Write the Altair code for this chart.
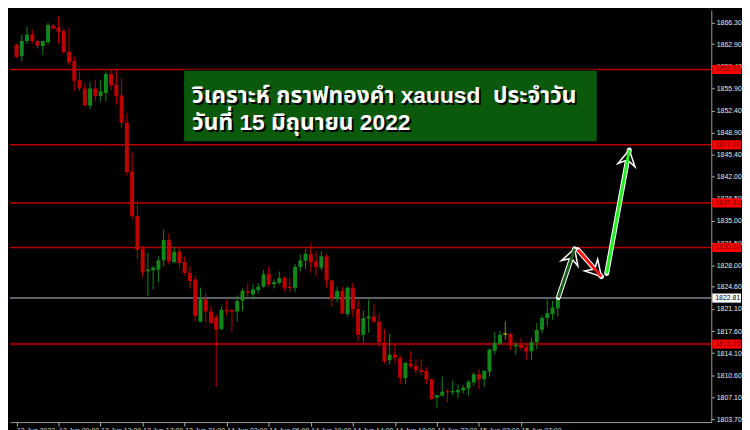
import math
import altair as alt
import pandas as pd

# ---------------- data (GOLD M30) ----------------
opens = [1862.8, 1861.0, 1863.4, 1864.4, 1863.4, 1862.6, 1863.2, 1865.8, 1865.5, 1865.0,
         1861.7, 1860.2, 1857.2, 1855.9, 1853.2, 1855.9, 1854.7, 1855.2, 1858.2, 1856.5,
         1854.8, 1850.5, 1842.8, 1835.8, 1830.5, 1827.05, 1827.2, 1827.3, 1828.8, 1832.0,
         1828.5, 1830.2, 1828.5, 1826.8, 1825.75, 1819.1, 1822.6, 1820.7, 1819.8, 1817.9,
         1820.95, 1820.9, 1820.7, 1822.4, 1823.9, 1823.4, 1824.1, 1824.6, 1826.6, 1825.0,
         1825.2, 1826.0, 1824.6, 1824.45, 1827.7, 1828.7, 1829.8, 1828.6, 1827.6, 1829.4,
         1825.6, 1822.7, 1823.9, 1820.3, 1824.45, 1821.1, 1817.0, 1819.6, 1819.9, 1819.1,
         1815.75, 1813.0, 1813.9, 1813.35, 1810.2, 1812.5, 1812.1, 1811.5, 1811.3, 1810.0,
         1807.1, 1807.4, 1808.12, 1807.93, 1807.93, 1808.24, 1808.55, 1809.5, 1810.8, 1810.0,
         1811.2, 1814.5, 1815.6, 1817.0, 1817.15, 1815.17, 1815.43, 1815.07, 1814.4, 1815.85,
         1817.8, 1819.65, 1820.3, 1821.2]
highs = [1863.0, 1864.4, 1865.6, 1865.2, 1863.6, 1863.4, 1866.3, 1866.1, 1867.2, 1865.4,
         1865.4, 1860.9, 1858.6, 1856.8, 1856.9, 1857.3, 1857.2, 1858.6, 1858.9, 1858.9,
         1857.5, 1851.9, 1845.8, 1837.5, 1831.1, 1830.0, 1827.9, 1829.4, 1833.6, 1833.0,
         1830.9, 1830.7, 1829.4, 1827.9, 1826.4, 1824.45, 1823.6, 1821.6, 1820.3, 1821.5,
         1822.5, 1821.1, 1823.25, 1824.3, 1825.2, 1825.0, 1825.2, 1827.2, 1827.8, 1825.75,
         1827.0, 1826.2, 1826.0, 1828.2, 1829.7, 1830.55, 1831.5, 1830.2, 1830.2, 1829.7,
         1825.75, 1824.6, 1824.6, 1824.6, 1825.2, 1822.6, 1820.8, 1822.6, 1821.8, 1820.4,
         1817.9, 1817.15, 1815.4, 1813.8, 1812.7, 1814.5, 1813.2, 1813.1, 1811.95, 1810.1,
         1807.5, 1810.4, 1808.44, 1809.76, 1809.2, 1809.07, 1809.85, 1811.05, 1811.6, 1811.4,
         1814.8, 1817.4, 1817.6, 1819.1, 1817.3, 1815.85, 1816.5, 1815.43, 1816.6, 1818.9,
         1820.1, 1822.6, 1822.4, 1822.9]
lows = [1860.7, 1860.2, 1863.0, 1863.0, 1862.2, 1861.2, 1862.8, 1865.3, 1863.0, 1861.5,
        1859.5, 1855.5, 1855.5, 1853.1, 1852.6, 1853.9, 1853.9, 1853.9, 1855.7, 1853.3,
        1849.7, 1842.2, 1835.25, 1829.0, 1826.1, 1823.1, 1824.2, 1825.3, 1827.8, 1828.1,
        1828.25, 1827.6, 1826.5, 1824.3, 1819.1, 1818.98, 1818.98, 1818.7, 1808.8, 1817.8,
        1820.0, 1817.5, 1819.1, 1820.8, 1823.05, 1822.6, 1823.56, 1824.45, 1824.6, 1824.3,
        1824.97, 1823.9, 1823.77, 1823.77, 1827.05, 1827.4, 1826.8, 1826.3, 1827.2, 1824.45,
        1821.5, 1822.2, 1820.28, 1819.9, 1819.8, 1815.95, 1815.85, 1817.3, 1818.87, 1815.1,
        1812.46, 1812.3, 1812.46, 1809.2, 1809.2, 1811.7, 1810.9, 1810.6, 1809.3, 1806.7,
        1805.4, 1807.35, 1806.4, 1807.5, 1807.0, 1807.77, 1807.4, 1809.0, 1808.44, 1808.8,
        1810.4, 1813.9, 1815.43, 1816.26, 1814.7, 1813.9, 1814.54, 1813.1, 1813.0, 1814.7,
        1817.3, 1818.45, 1819.4, 1819.9]
closes = [1860.9, 1863.4, 1864.4, 1863.4, 1862.66, 1863.4, 1865.9, 1865.36, 1864.85, 1861.6,
          1860.0, 1857.15, 1855.9, 1853.23, 1855.9, 1854.7, 1855.45, 1858.17, 1856.4, 1854.68,
          1850.5, 1842.7, 1835.76, 1830.45, 1826.9, 1827.32, 1827.6, 1828.77, 1832.0, 1828.6,
          1830.1, 1828.36, 1826.8, 1825.5, 1820.0, 1822.63, 1820.7, 1818.87, 1817.82, 1820.95,
          1820.7, 1820.7, 1822.36, 1823.92, 1823.67, 1824.19, 1824.61, 1826.58, 1824.97, 1825.33,
          1825.96, 1824.45, 1824.4, 1827.74, 1828.77, 1829.82, 1828.46, 1827.68, 1829.4, 1825.6,
          1822.73, 1823.92, 1820.39, 1824.45, 1821.06, 1817.0, 1819.65, 1819.92, 1819.08, 1815.85,
          1812.82, 1813.87, 1813.4, 1810.22, 1812.57, 1812.1, 1811.41, 1811.16, 1809.96, 1806.88,
          1807.5, 1808.03, 1807.93, 1808.12, 1808.28, 1808.66, 1809.6, 1810.79, 1809.96, 1811.32,
          1814.7, 1815.75, 1817.04, 1817.3, 1815.32, 1815.43, 1814.96, 1814.38, 1815.85, 1817.78,
          1819.65, 1820.44, 1821.32, 1822.81]

time_labels = ["13 Jun 2022", "13 Jun 09:00", "13 Jun 13:00", "13 Jun 17:00", "13 Jun 21:00",
               "14 Jun 02:00", "14 Jun 06:00", "14 Jun 10:00", "14 Jun 14:00", "14 Jun 18:00",
               "14 Jun 22:00", "15 Jun 03:00", "15 Jun 07:00"]
time_tick_idx = [8 * k for k in range(len(time_labels))]

price_ticks = [1866.30, 1862.90, 1859.40, 1855.90, 1852.40, 1848.90, 1845.40, 1842.00,
               1838.50, 1835.00, 1831.50, 1828.00, 1824.60, 1821.10, 1817.60, 1814.10,
               1810.60, 1807.10, 1803.70]

level_prices = [1858.91, 1847.00, 1837.83, 1830.80, 1815.55]
level_colors = ["#b80000", "#b80000", "#b80000", "#b80000", "#8a0000"]
level_widths = [1.5, 1.5, 1.5, 1.5, 2.5]
current_price = 1822.81

# arrows (candle index, price)
arrow_x1 = [103.1, 106.8, 112.3]
arrow_y1 = [1822.9, 1830.45, 1826.7]
arrow_x2 = [106.2, 111.3, 116.6]
arrow_y2 = [1830.6, 1826.2, 1846.2]
arrow_colors = ["#1b5e1b", "#ff1010", "#22ee22"]

# title box (candle index / price corners) and text
title_box_x = [31.8, 110.5]
title_box_y = [1858.8, 1847.5]
title_lines = ["วิเคราะห์ กราฟทองคำ xauusd \u00a0ประจำวัน", "วันที่ 15 มิถุนายน 2022"]
title_line_x = [33.4, 33.4]
title_line_y = [1853.6, 1849.4]

# ---------------- chart ----------------
W, H = 708, 416
XD = [-0.3, 131.26]
YD = [1803.23, 1868.29]
px_per_x = W / (XD[1] - XD[0])
px_per_y = H / (YD[1] - YD[0])

df = pd.DataFrame({"i": list(range(len(opens))), "open": opens, "high": highs,
                   "low": lows, "close": closes})
df["dir"] = ["up" if c > o else "down" for o, c in zip(opens, closes)]
df.loc[93, "dir"] = "flat"

xs = alt.Scale(domain=XD, nice=False, zero=False)
ys = alt.Scale(domain=YD, nice=False, zero=False)

lab_expr = "[" + ",".join("'%s'" % s for s in time_labels) + "][round(datum.value/8)]"
axfont = "Liberation Sans, Arial, sans-serif"

x_axis = alt.Axis(values=time_tick_idx, labelExpr=lab_expr, title=None, grid=False,
                  labelColor="#d8d8d8", labelFontSize=7, labelFont=axfont,
                  labelAlign="left", labelPadding=1, tickColor="#b0b0b0", tickSize=4,
                  domainColor="#9a9a9a", labelFlush=False, labelOverlap=False)
y_axis = alt.Axis(values=price_ticks, format=".2f", orient="right", title=None, grid=False,
                  labelColor="#e8e8e8", labelFontSize=7, labelFont=axfont,
                  tickColor="#b0b0b0", tickSize=3, labelPadding=2, domainColor="#9a9a9a",
                  labelOverlap=False, labelFlush=False)

base = alt.Chart(df)

lev_df = pd.DataFrame({"p": level_prices, "c": level_colors, "w": level_widths})
lev_df["lbl"] = [f"{p:.2f}" for p in level_prices]
lev_df["p1"] = lev_df["p"] - 0.72
lev_df["p2"] = lev_df["p"] + 0.72
levels = alt.Chart(lev_df).mark_rule().encode(
    y=alt.Y("p:Q", scale=ys, axis=y_axis), color=alt.Color("c:N", scale=None),
    strokeWidth=alt.StrokeWidth("w:Q", scale=None))

wicks = base.mark_rule(strokeWidth=1).encode(
    x=alt.X("i:Q", scale=xs, axis=x_axis),
    y=alt.Y("low:Q", scale=ys, axis=y_axis),
    y2="high:Q",
    color=alt.Color("dir:N", scale=alt.Scale(domain=["up", "down", "flat"],
                    range=["#12881a", "#c00000", "#8a8a10"]), legend=None),
)
bodies = base.mark_bar(size=4).encode(
    x=alt.X("i:Q", scale=xs, axis=x_axis),
    y=alt.Y("open:Q", scale=ys, axis=y_axis),
    y2="close:Q",
    color=alt.Color("dir:N", scale=alt.Scale(domain=["up", "down", "flat"],
                    range=["#00ff00", "#ff0000", "#a0a020"]), legend=None),
)

cur_df = pd.DataFrame({"p": [current_price], "lbl": [f"{current_price:.2f}"]})
cur_df["p1"] = cur_df["p"] - 0.72
cur_df["p2"] = cur_df["p"] + 0.72
cur_line = alt.Chart(cur_df).mark_rule(color="#5c6168", strokeWidth=2).encode(
    y=alt.Y("p:Q", scale=ys, axis=y_axis))

lev_box = alt.Chart(lev_df).mark_rect(color="#ff0000").encode(
    x=alt.value(W + 1), x2=alt.value(W + 30),
    y=alt.Y("p1:Q", scale=ys, axis=y_axis), y2="p2:Q")
lev_txt = alt.Chart(lev_df).mark_text(align="left", baseline="middle", fontSize=7,
                                      font=axfont, color="#7a0000").encode(
    x=alt.value(W + 4), y=alt.Y("p:Q", scale=ys, axis=y_axis), text="lbl:N")
cur_box = alt.Chart(cur_df).mark_rect(color="#ffffff").encode(
    x=alt.value(W + 1), x2=alt.value(W + 30),
    y=alt.Y("p1:Q", scale=ys, axis=y_axis), y2="p2:Q")
cur_txt = alt.Chart(cur_df).mark_text(align="left", baseline="middle", fontSize=7,
                                      font=axfont, color="#000000").encode(
    x=alt.value(W + 4), y=alt.Y("p:Q", scale=ys, axis=y_axis), text="lbl:N")

# title box
tb_df = pd.DataFrame({"x1": [title_box_x[0]], "x2": [title_box_x[1]],
                      "y1": [title_box_y[0]], "y2": [title_box_y[1]]})
tbox = alt.Chart(tb_df).mark_rect(fill="#0b5a0b", stroke="#000000", strokeWidth=1).encode(
    x=alt.X("x1:Q", scale=xs, axis=x_axis), x2="x2:Q",
    y=alt.Y("y1:Q", scale=ys, axis=y_axis), y2="y2:Q")
tt_df = pd.DataFrame({"t": title_lines, "x": title_line_x, "y": title_line_y})
tfont = "'Liberation Sans', Tahoma, 'Noto Sans Thai', Loma, Garuda, sans-serif"
tshadow = alt.Chart(tt_df).mark_text(align="left", baseline="alphabetic", fontSize=23,
                                     fontWeight="bold", font=tfont, color="#000000",
                                     dx=2, dy=2).encode(
    x=alt.X("x:Q", scale=xs, axis=x_axis), y=alt.Y("y:Q", scale=ys, axis=y_axis), text="t:N")
ttext = alt.Chart(tt_df).mark_text(align="left", baseline="alphabetic", fontSize=23,
                                   fontWeight="bold", font=tfont, color="#ffffff").encode(
    x=alt.X("x:Q", scale=xs, axis=x_axis), y=alt.Y("y:Q", scale=ys, axis=y_axis), text="t:N")

# arrows
ang = []
for a, b, c, d in zip(arrow_x1, arrow_y1, arrow_x2, arrow_y2):
    dx = (c - a) * px_per_x
    dy = -(d - b) * px_per_y
    ang.append(math.degrees(math.atan2(dx, -dy)) % 360)
ar_df = pd.DataFrame({"x1": arrow_x1, "y1": arrow_y1, "x2": arrow_x2, "y2": arrow_y2,
                      "c": arrow_colors, "a": ang})
ar_out = alt.Chart(ar_df).mark_rule(color="#ffffff", strokeWidth=5, strokeCap="round").encode(
    x=alt.X("x1:Q", scale=xs, axis=x_axis), y=alt.Y("y1:Q", scale=ys, axis=y_axis),
    x2="x2:Q", y2="y2:Q")
ar_in = alt.Chart(ar_df).mark_rule(strokeWidth=3).encode(
    x=alt.X("x1:Q", scale=xs, axis=x_axis), y=alt.Y("y1:Q", scale=ys, axis=y_axis),
    x2="x2:Q", y2="y2:Q", color=alt.Color("c:N", scale=None))
ar_head = alt.Chart(ar_df).mark_point(
    shape="M0,0L0.9,1.6L0,1.05L-0.9,1.6Z", filled=True, fill="#000000",
    stroke="#ffffff", strokeWidth=1.5, size=380, opacity=1).encode(
    x=alt.X("x2:Q", scale=xs, axis=x_axis), y=alt.Y("y2:Q", scale=ys, axis=y_axis),
    angle=alt.Angle("a:Q", scale=None))

chart = alt.layer(
    levels, cur_line, wicks, bodies, tbox, tshadow, ttext,
    ar_out, ar_head, ar_in, lev_box, lev_txt, cur_box, cur_txt
).properties(
    width=W, height=H, background="#000000", padding=0
).configure_view(stroke=None)

chart.save("out.html", embed_options={"renderer": "svg", "actions": False})
